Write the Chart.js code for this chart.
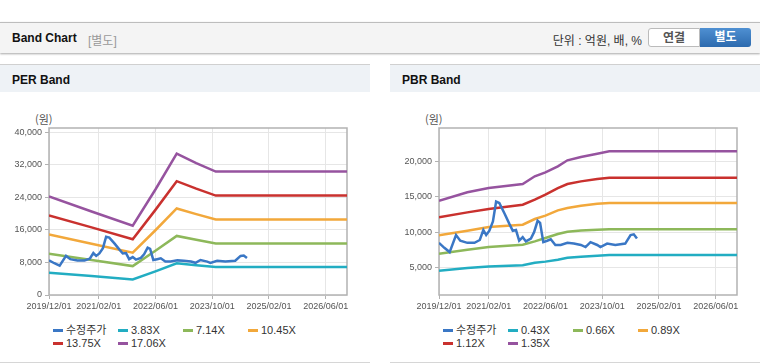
<!DOCTYPE html>
<html lang="ko">
<head>
<meta charset="utf-8">
<title>Band Chart</title>
<script src="https://cdn.jsdelivr.net/npm/chart.js@4.4.1/dist/chart.umd.min.js"></script>
<style>
body { margin:0; width:760px; height:364px; background:#fff; position:relative; overflow:hidden;
       font-family:"Liberation Sans", Arial, "Noto Sans CJK KR", sans-serif; color:#222; }
.topbar { position:absolute; left:0; top:22px; width:760px; height:30px; background:#f4f4f4;
          border-top:1px solid #bdbdbd; box-shadow:0 1px 2px rgba(0,0,0,.35); }
.topbar .ttl { position:absolute; left:12px; top:8px; font-size:12px; font-weight:bold; color:#111; }
.topbar .sub { position:absolute; left:88px; top:8px; font-size:12px; color:#999; }
.topbar .unit { position:absolute; right:118px; top:8px; font-size:12px; color:#333; }
.btn { position:absolute; top:5px; height:19px; line-height:19px; font-size:12px; font-weight:bold; text-align:center; box-sizing:border-box; }
.btn.off { left:648px; width:52px; background:#fff; color:#555; border:1px solid #bbb; border-radius:3px 0 0 3px; }
.btn.on { left:700px; width:51px; background:linear-gradient(#4f90d2, #2c6aae); color:#fff; border-radius:0 3px 3px 0; }
.panel { position:absolute; top:64px; width:370px; height:297px; border-top:1px solid #d0d0d0; border-bottom:1px solid #d6d6d6; }
.panel .head { position:absolute; left:0; top:0; width:100%; height:27px; background:#eef2f6; }
.panel .head span { position:absolute; left:12px; top:8px; font-size:12px; font-weight:bold; color:#111; }
.panel .unitlbl { position:absolute; left:35px; top:46px; font-size:11px; color:#555; font-family:"Noto Sans CJK KR", sans-serif; }
.panel .box { position:absolute; left:0; top:35px; width:370px; height:215px; }
.legend { position:absolute; left:53px; top:259px; width:300px; font-size:11px; color:#333; }
.legend div { display:inline-block; width:65px; height:13px; line-height:13px; white-space:nowrap; }
.legend i { display:inline-block; width:10px; height:3px; margin-right:3px; vertical-align:middle; position:relative; top:-1px; }
</style>
</head>
<body>
<div class="topbar">
  <span class="ttl">Band Chart</span><span class="sub">[별도]</span>
  <span class="unit">단위 : 억원, 배, %</span>
  <div class="btn off">연결</div><div class="btn on">별도</div>
</div>

<div class="panel" style="left:0">
  <div class="head"><span>PER Band</span></div>
  <div class="unitlbl">(원)</div>
  <div class="box"><canvas id="per"></canvas></div>
  <div class="legend" id="perLegend"></div>
</div>

<div class="panel" style="left:390px">
  <div class="head"><span>PBR Band</span></div>
  <div class="unitlbl">(원)</div>
  <div class="box"><canvas id="pbr"></canvas></div>
  <div class="legend" id="pbrLegend"></div>
</div>

<script>
// x = months since 2019/12/01
const monthTicks = [0, 14, 30, 46, 62, 78];
const monthLabels = ['2019/12/01', '2021/02/01', '2022/06/01', '2023/10/01', '2025/02/01', '2026/06/01'];

// 수정주가 (same series on both charts)
const priceMonth = [0, 1.5, 3, 4.8, 6, 8, 10, 11.5, 12.5, 13.3, 14.2, 15.2, 16.1, 17, 18.5, 19.8, 20.8, 21.7,
  22.6, 23.6, 24.5, 25.9, 26.8, 27.8, 28.5, 29.4, 30.5, 31.5, 32.8, 34.3, 36.2, 38, 40, 41.3, 42.7,
  44.6, 45.5, 47.4, 49.7, 52.5, 54, 54.9, 55.8];
const price = [8500, 7800, 7200, 9600, 8800, 8500, 8500, 8900, 10300, 9600, 10200, 11500, 14300, 14100,
  12600, 11200, 10200, 10300, 8800, 9300, 8700, 9100, 10000, 11600, 11300, 8600, 8800, 9000, 8200,
  8200, 8500, 8400, 8200, 7900, 8600, 8200, 7900, 8400, 8200, 8400, 9600, 9700, 9100];

// PER band
const perMonth = [0, 12, 23.6, 30, 36, 41.5, 47, 84];
const per383 = [5450, 4650, 3800, 5800, 7800, 7300, 6900, 6900];
const per714 = [10100, 8600, 7100, 10850, 14500, 13550, 12650, 12650];
const per1045 = [14850, 12600, 10400, 15900, 21250, 19850, 18550, 18550];
const per1375 = [19500, 16600, 13700, 20900, 27950, 26100, 24400, 24400];
const per1706 = [24200, 20500, 17000, 25900, 34700, 32400, 30300, 30300];
const perTicks = [0, 8000, 16000, 24000, 32000, 40000];

// PBR band
const pbrMonth = [0, 8, 14, 23.6, 27, 30, 33.5, 36.2, 40, 44.6, 48, 84];
const pbr043 = [4590, 4970, 5160, 5340, 5690, 5860, 6130, 6400, 6550, 6700, 6780, 6780];
const pbr066 = [6970, 7540, 7910, 8240, 8700, 9180, 9740, 10070, 10250, 10350, 10400, 10400];
const pbr089 = [9550, 10200, 10720, 11050, 11850, 12320, 13060, 13400, 13720, 14000, 14100, 14100];
const pbr112 = [12080, 12780, 13250, 13860, 14570, 15270, 16200, 16770, 17140, 17470, 17660, 17660];
const pbr135 = [14420, 15600, 16200, 16770, 17850, 18400, 19250, 20100, 20570, 21030, 21360, 21360];
const pbrTicks = [5000, 10000, 15000, 20000];

const colors = ['#3a77c5', '#22adc2', '#8db85a', '#f2a83b', '#c9312e', '#96539f'];

function xy(xs, ys) {
  return xs.map(function (x, i) { return { x: x, y: ys[i] }; });
}

const frame = {
  id: 'frame',
  beforeDatasetsDraw: function (chart) {
    var a = chart.chartArea, ctx = chart.ctx;
    ctx.save();
    ctx.strokeStyle = '#b2b2b2';
    ctx.lineWidth = 1.5;
    ctx.strokeRect(a.left, a.top, a.right - a.left, a.bottom - a.top);
    ctx.restore();
  }
};

function drawBand(id, legendId, names, bandMonth, bands, yMin, yMax, yTicks) {
  var datasets = [{ label: names[0], data: xy(priceMonth, price) }];
  bands.forEach(function (b, i) {
    datasets.push({ label: names[i + 1], data: xy(bandMonth, b) });
  });
  datasets.forEach(function (d, i) {
    d.borderColor = colors[i];
    d.backgroundColor = colors[i];
    d.borderWidth = 2.5;
    d.pointRadius = 0;
    d.tension = 0;
  });

  var tickFont = { family: '"Liberation Sans", Arial', size: 9 };
  var chart = new Chart(document.getElementById(id), {
    type: 'line',
    data: { datasets: datasets },
    options: {
      responsive: true,
      maintainAspectRatio: false,
      animation: false,
      layout: { padding: { top: 28, right: 23, left: 0, bottom: 0 } },
      plugins: { legend: { display: false }, tooltip: { enabled: false } },
      scales: {
        x: {
          type: 'linear', min: 0, max: 84,
          afterBuildTicks: function (s) { s.ticks = monthTicks.map(function (v) { return { value: v }; }); },
          afterFit: function (s) { s.height = 20; },
          border: { display: false },
          grid: { color: '#e6e6e6', tickColor: '#b2b2b2', tickLength: 4 },
          ticks: {
            autoSkip: false, maxRotation: 0, padding: 2, color: '#555', font: tickFont,
            callback: function (v) { return monthLabels[monthTicks.indexOf(v)]; }
          }
        },
        y: {
          min: yMin, max: yMax,
          afterBuildTicks: function (s) { s.ticks = yTicks.map(function (v) { return { value: v }; }); },
          afterFit: function (s) { s.width = 49; },
          border: { display: false },
          grid: { color: '#e6e6e6', tickColor: '#b2b2b2', tickLength: 4 },
          ticks: {
            padding: 3, color: '#555', font: tickFont,
            callback: function (v) { return v.toLocaleString('en-US'); }
          }
        }
      }
    },
    plugins: [frame]
  });

  var html = '';
  chart.data.datasets.forEach(function (d) {
    html += '<div><i style="background:' + d.borderColor + '"></i>' + d.label + '</div>';
  });
  document.getElementById(legendId).innerHTML = html;
}

drawBand('per', 'perLegend', ['수정주가', '3.83X', '7.14X', '10.45X', '13.75X', '17.06X'],
  perMonth, [per383, per714, per1045, per1375, per1706], 0, 41000, perTicks);
drawBand('pbr', 'pbrLegend', ['수정주가', '0.43X', '0.66X', '0.89X', '1.12X', '1.35X'],
  pbrMonth, [pbr043, pbr066, pbr089, pbr112, pbr135], 1170, 24640, pbrTicks);
</script>
</body>
</html>
